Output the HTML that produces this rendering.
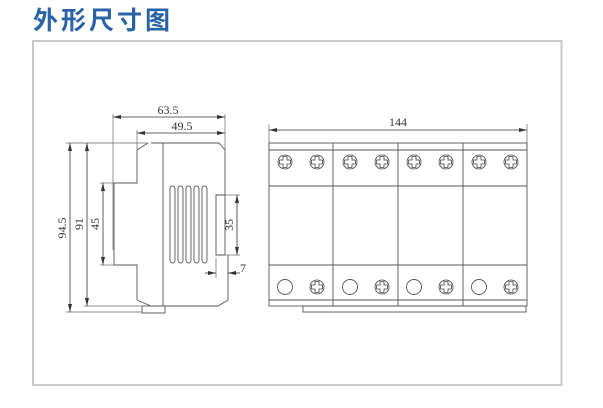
<!DOCTYPE html>
<html><head><meta charset="utf-8"><style>
html,body{margin:0;padding:0;background:#fff;width:603px;height:408px;overflow:hidden}
.t{position:absolute;left:33px;top:1px;font:bold 25px "Liberation Sans","Noto Sans CJK SC",sans-serif;color:#2a62a8;letter-spacing:3px}
svg{position:absolute;left:0;top:0}
</style></head><body>
<div class="t">外形尺寸图</div>
<svg width="603" height="408" viewBox="0 0 603 408">
<defs>
<marker id="a" markerWidth="8" markerHeight="6" refX="8" refY="3" orient="auto-start-reverse" markerUnits="userSpaceOnUse"><path d="M0,1 L8,3 L0,5z" fill="#333"/></marker>
<g id="s"><circle r="7" fill="none" stroke="#444" stroke-width="0.8"/><path d="M-2,-5.5 h4 v3.5 h3.5 v4 h-3.5 v3.5 h-4 v-3.5 h-3.5 v-4 h3.5z" fill="none" stroke="#444" stroke-width="0.8"/></g>
</defs>
<rect x="33" y="41" width="528.5" height="344" fill="none" stroke="#c8c8c8" stroke-width="2"/>
<g fill="none" stroke="#555" stroke-width="0.9">
<path d="M151,143 H219 L225,150 V195 M216,195 H225 V255 H216 Z M228,255 V300 L218,306 H151 L137,300 V265 H114 V183 H137 V150 L148,143"/>
<line x1="163" y1="143" x2="163" y2="306"/>
<rect x="142" y="306" width="23" height="7"/>
<g>
<rect x="170" y="186" width="5" height="77" rx="2.5"/><rect x="178" y="186" width="5" height="77" rx="2.5"/><rect x="186" y="186" width="5" height="77" rx="2.5"/><rect x="194" y="186" width="5" height="77" rx="2.5"/><rect x="202" y="186" width="5" height="77" rx="2.5"/>
</g>
<g stroke="#666" stroke-width="0.7">
<line x1="113" y1="114" x2="113" y2="250"/><line x1="225" y1="114" x2="225" y2="150"/><line x1="137" y1="130" x2="137" y2="150"/>
<line x1="66" y1="143" x2="148" y2="143"/><line x1="66" y1="312" x2="142" y2="312"/><line x1="84" y1="306" x2="151" y2="306"/>
<line x1="100" y1="183" x2="114" y2="183"/><line x1="100" y1="265" x2="114" y2="265"/>
<line x1="225" y1="195" x2="240" y2="195"/><line x1="225" y1="255" x2="240" y2="255"/>
<line x1="216" y1="258" x2="216" y2="278"/><line x1="228" y1="258" x2="228" y2="278"/>
<line x1="269" y1="124" x2="269" y2="150"/><line x1="527" y1="124" x2="527" y2="150"/>
</g>
</g>
<g stroke="#333" stroke-width="0.8" fill="none">
<line x1="113" y1="117" x2="225" y2="117" marker-start="url(#a)" marker-end="url(#a)"/>
<line x1="137" y1="133" x2="225" y2="133" marker-start="url(#a)" marker-end="url(#a)"/>
<line x1="70" y1="143" x2="70" y2="312" marker-start="url(#a)" marker-end="url(#a)"/>
<line x1="87" y1="143" x2="87" y2="306" marker-start="url(#a)" marker-end="url(#a)"/>
<line x1="103" y1="183" x2="103" y2="265" marker-start="url(#a)" marker-end="url(#a)"/>
<line x1="237" y1="195" x2="237" y2="255" marker-start="url(#a)" marker-end="url(#a)"/>
<line x1="205" y1="273" x2="216" y2="273" marker-end="url(#a)"/>
<line x1="240" y1="273" x2="228" y2="273" marker-end="url(#a)"/>
<line x1="269" y1="130" x2="527" y2="130" marker-start="url(#a)" marker-end="url(#a)"/>
</g>
<g font-family="Liberation Serif,serif" font-size="12" fill="#333" text-anchor="middle">
<text x="168" y="114">63.5</text>
<text x="182" y="130">49.5</text>
<text x="243" y="272">7</text>
<text x="398" y="126">144</text>
<text transform="translate(66,228) rotate(-90)">94.5</text>
<text transform="translate(83,224) rotate(-90)">91</text>
<text transform="translate(99,224) rotate(-90)">45</text>
<text transform="translate(233,225) rotate(-90)">35</text>
</g>
<g fill="none" stroke="#555" stroke-width="0.9">
<rect x="269" y="143" width="258" height="163"/>
<line x1="269" y1="150" x2="527" y2="150"/>
<line x1="269" y1="186" x2="527" y2="186"/>
<line x1="269" y1="265" x2="527" y2="265"/>
<line x1="269" y1="300" x2="527" y2="300"/>
<line x1="333" y1="143" x2="333" y2="306"/><line x1="398" y1="143" x2="398" y2="306"/><line x1="463" y1="143" x2="463" y2="306"/>
<rect x="303" y="306" width="223" height="6"/>
<circle cx="285" cy="287" r="7.5"/><circle cx="350" cy="287" r="7.5"/><circle cx="414" cy="287" r="7.5"/><circle cx="479" cy="287" r="7.5"/>
</g>
<use href="#s" x="285" y="162"/><use href="#s" x="317" y="162"/>
<use href="#s" x="350" y="162"/><use href="#s" x="382" y="162"/>
<use href="#s" x="414" y="162"/><use href="#s" x="446" y="162"/>
<use href="#s" x="479" y="162"/><use href="#s" x="511" y="162"/>
<use href="#s" x="317" y="287"/><use href="#s" x="382" y="287"/><use href="#s" x="446" y="287"/><use href="#s" x="511" y="287"/>
</svg>
</body></html>
